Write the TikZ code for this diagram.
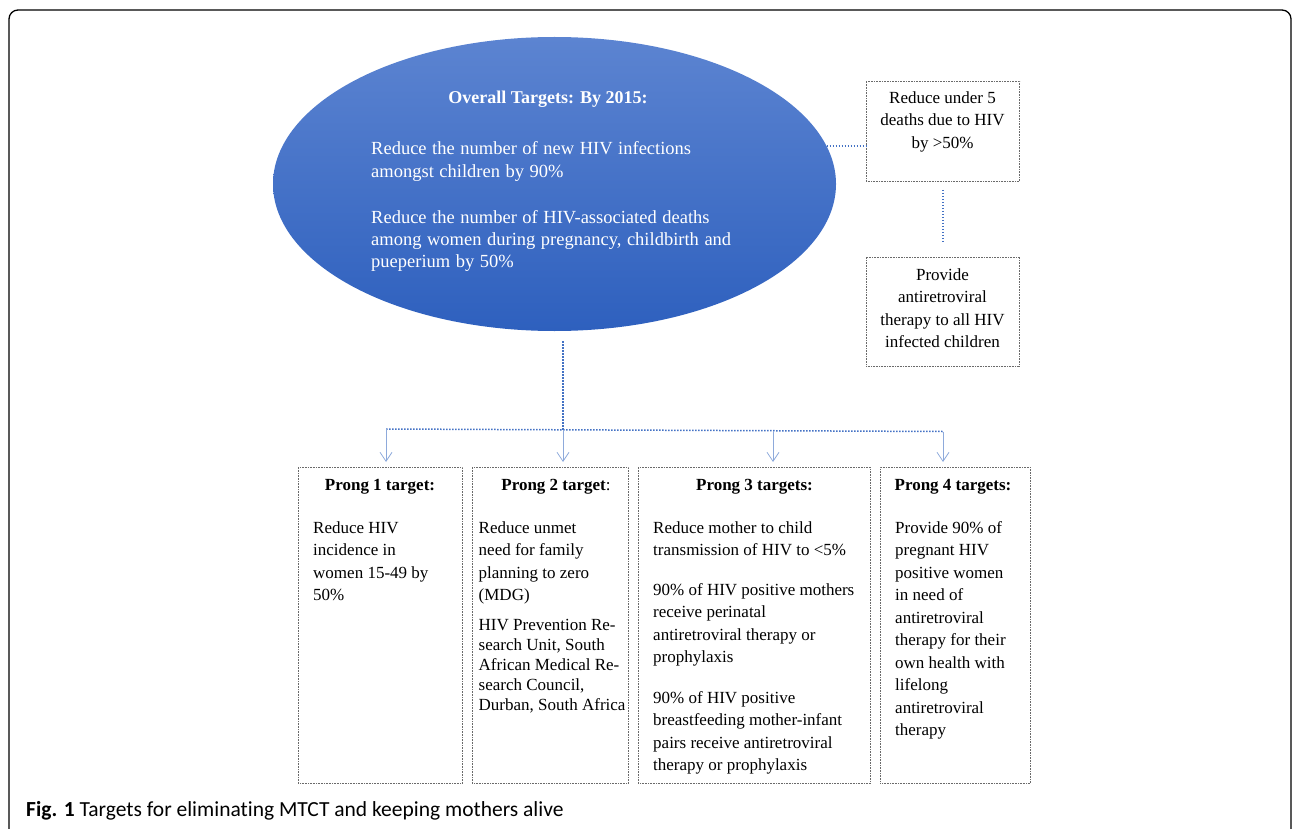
\documentclass[tikz,border=0pt]{standalone}
\usepackage{fontspec}
\setmainfont{Liberation Serif}
\newfontfamily\capfont[Ligatures=NoCommon]{Carlito}
\usetikzlibrary{shapes.geometric,arrows.meta}
\definecolor{ellTop}{HTML}{5C84D1}
\definecolor{ellBot}{HTML}{2E60BE}
\definecolor{dotblue}{HTML}{4472C4}
\definecolor{arrblue}{HTML}{8EAADB}
\definecolor{boxgray}{HTML}{6A6A6A}
\newcommand{\lpara}[2]{\vtop{\baselineskip=#1\relax\lineskiplimit=-30pt\halign{##\hfil\cr#2\crcr}}}
\newcommand{\epara}[2]{\vtop{\spaceskip=0.3em plus 0.1em\relax\baselineskip=#1\relax\lineskiplimit=-30pt\halign{##\hfil\cr#2\crcr}}}
\newcommand{\cpara}[2]{\vtop{\baselineskip=#1\relax\lineskiplimit=-30pt\halign{\hfil##\hfil\cr#2\crcr}}}
\tikzset{
  txt/.style={inner sep=0pt, font=\fontsize{17pt}{22.5pt}\selectfont},
  btxt/.style={inner sep=0pt, font=\fontsize{17pt}{22.5pt}\selectfont\bfseries},
  etxt/.style={inner sep=0pt, text=white, font=\fontsize{18.5pt}{22.5pt}\selectfont},
  gbox/.style={draw=boxgray, line width=0.8pt, dash pattern=on 0.8pt off 0.8pt, inner sep=0pt, anchor=north west},
  dotline/.style={draw=dotblue, line width=1.5pt, dash pattern=on 1.5pt off 1.5pt},
  arr/.style={draw=arrblue, line width=0.8pt, -{Straight Barb[length=9pt,width=12pt]}, shorten >=5pt},
}
\begin{document}
\begin{tikzpicture}[x=1pt,y=-1pt]
\useasboundingbox (0,0) rectangle (1292,829);
% outer frame
\draw[line width=1.3pt, rounded corners=9pt] (9,860) -- (9,10) -- (1291,10) -- (1291,860);

% ellipse
\node[ellipse, minimum width=563pt, minimum height=294pt, inner sep=0pt, top color=ellTop, bottom color=ellBot, draw=none] (ell) at (554.5,184) {};
\node[etxt, anchor=base, font=\fontsize{18pt}{22.5pt}\selectfont\bfseries] (ttl) at (548,104) {Overall Targets: By 2015:};
\node[etxt, anchor=base west] (e1) at (371,155) {\epara{22.5pt}{Reduce the number of new HIV infections\cr amongst children by 90\%}};
\node[etxt, anchor=base west] (e2) at (371,223) {\epara{22pt}{Reduce the number of HIV-associated deaths\cr among women during pregnancy, childbirth and\cr pueperium by 50\%}};

% right boxes
\node[gbox, minimum width=153.5pt, minimum height=100pt] (bA) at (865.7,80.7) {};
\node[txt, anchor=base] (tA) at (942.5,103.3) {\cpara{22.5pt}{Reduce under 5\cr deaths due to HIV\cr by >50\%}};
\node[gbox, minimum width=153.5pt, minimum height=109.3pt] (bB) at (865.7,256.7) {};
\node[txt, anchor=base] (tB) at (942.5,280) {\cpara{22.5pt}{Provide\cr antiretroviral\cr therapy to all HIV\cr infected children}};

\draw[dotline] (ell.8.9) -- (ell.8.9 -| bA.west);
\draw[dotline] ([yshift=-8.3pt]bA.south) -- ([yshift=14.4pt]bB.north);

% bottom boxes
\node[gbox, minimum width=164pt, minimum height=316pt] (p1) at (298,467) {};
\node[gbox, minimum width=156pt, minimum height=316pt] (p2) at (472,467) {};
\node[gbox, minimum width=232pt, minimum height=316pt] (p3) at (638,467) {};
\node[gbox, minimum width=150pt, minimum height=316pt] (p4) at (880,467) {};

% tree connectors
\coordinate (t0) at (563,341);
\coordinate (h1) at (386,429);
\coordinate (h2) at (563,429.7);
\coordinate (h3) at (773,430.8);
\coordinate (h4) at (943,431.5);
\draw[dotline] (t0) -- (h2);
\draw[dotline] (h1) -- (h4);
\draw[arr] (h1) -- (h1 |- p1.north);
\draw[arr] (h2) -- (h2 |- p2.north);
\draw[arr] (h3) -- (h3 |- p3.north);
\draw[arr] (h4) -- (h4 |- p4.north);

% headers
\node[btxt, anchor=base] (hd1) at (380,490.5) {Prong 1 target:};
\node[txt, anchor=base] (hd2) at (556,490.5) {\textbf{Prong 2 target}:};
\node[btxt, anchor=base] (hd3) at (754.5,490.5) {Prong 3 targets:};
\node[btxt, anchor=base] (hd4) at (953,490.5) {Prong 4 targets:};

% bodies
\node[txt, anchor=base west] (b1) at (313,533) {\lpara{22.5pt}{Reduce HIV\cr incidence in\cr women 15-49 by\cr 50\%}};
\node[txt, anchor=base west] (b2a) at (478.5,533) {\lpara{22.5pt}{Reduce unmet\cr need for family\cr planning to zero\cr (MDG)}};
\node[txt, anchor=base west] (b2b) at (478.5,630) {\lpara{20pt}{HIV Prevention Re-\cr search Unit, South\cr African Medical Re-\cr search Council,\cr Durban, South Africa}};
\node[txt, anchor=base west] (b3a) at (653,533) {\lpara{22.5pt}{Reduce mother to child\cr transmission of HIV to <5\%}};
\node[txt, anchor=base west] (b3b) at (653,595) {\lpara{22.5pt}{90\% of HIV positive mothers\cr receive perinatal\cr antiretroviral therapy or\cr prophylaxis}};
\node[txt, anchor=base west] (b3c) at (653,703.3) {\lpara{22.5pt}{90\% of HIV positive\cr breastfeeding mother-infant\cr pairs receive antiretroviral\cr therapy or prophylaxis}};
\node[txt, anchor=base west] (b4) at (895,533) {\lpara{22.5pt}{Provide 90\% of\cr pregnant HIV\cr positive women\cr in need of\cr antiretroviral\cr therapy for their\cr own health with\cr lifelong\cr antiretroviral\cr therapy}};

% caption
\node[inner sep=0pt, anchor=base west, font=\capfont\fontsize{21.5pt}{24pt}\selectfont] (cap) at (26,816) {\textbf{Fig. 1} Targets for eliminating MTCT and keeping mothers alive};
\end{tikzpicture}
\end{document}
